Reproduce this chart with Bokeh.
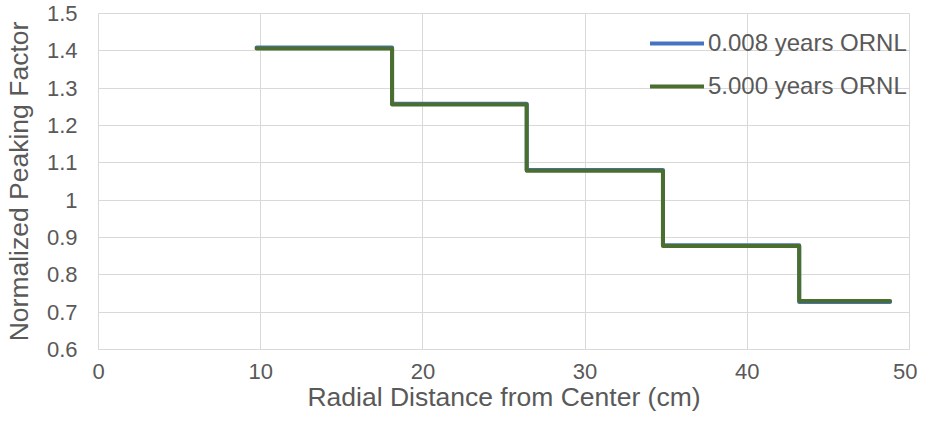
from bokeh.plotting import figure
from bokeh.models import Range1d, FixedTicker, Legend, LegendItem
from bokeh.embed import file_html
from bokeh.resources import INLINE

# ---- data ----
radius_edges = [9.75, 18.1, 26.4, 34.8, 43.2, 48.8]      # cm, ring boundaries
pf_0008_years = [1.409, 1.258, 1.081, 0.879, 0.727]       # 0.008 years ORNL
pf_5000_years = [1.406, 1.256, 1.079, 0.877, 0.730]       # 5.000 years ORNL
series_names = ["0.008 years ORNL", "5.000 years ORNL"]
x_ticks = [0, 10, 20, 30, 40, 50]
x_tick_labels = ["0", "10", "20", "30", "40", "50"]
y_ticks = [0.6, 0.7, 0.8, 0.9, 1.0, 1.1, 1.2, 1.3, 1.4, 1.5]
y_tick_labels = ["0.6", "0.7", "0.8", "0.9", "1", "1.1", "1.2", "1.3", "1.4", "1.5"]

FONT = "Liberation Sans"
TXT = "#595959"
GRID = "#D9D9D9"
BLUE = "#4472C4"
GREEN = "#4A6E2E"

p = figure(width=917, height=417, output_backend="svg", toolbar_location=None,
           x_range=Range1d(0, 50), y_range=Range1d(0.6, 1.5),
           min_border_left=93, min_border_right=8, min_border_top=13, min_border_bottom=68)
p.background_fill_color = "white"
p.border_fill_color = "white"
p.outline_line_color = GRID
p.outline_line_width = 1

# step series
def step_y(vals):
    return list(vals) + [vals[-1]]

r_blue = p.step(radius_edges, step_y(pf_0008_years), mode="after",
                line_color=BLUE, line_width=4, line_join="round", line_cap="round")
r_green = p.step(radius_edges, step_y(pf_5000_years), mode="after",
                 line_color=GREEN, line_width=4, line_join="round", line_cap="round")

# axes
p.xaxis.ticker = FixedTicker(ticks=x_ticks)
p.xaxis.major_label_overrides = {t: l for t, l in zip(x_ticks, x_tick_labels)}
p.yaxis.ticker = FixedTicker(ticks=y_ticks)
p.yaxis.major_label_overrides = {t: l for t, l in zip(y_ticks, y_tick_labels)}

for ax in (p.xaxis, p.yaxis):
    ax.axis_line_color = None
    ax.major_tick_line_color = None
    ax.minor_tick_line_color = None
    ax.major_tick_out = 0
    ax.major_tick_in = 0
    ax.major_label_text_font = FONT
    ax.major_label_text_font_size = "22px"
    ax.major_label_text_color = TXT
    ax.axis_label_text_font = FONT
    ax.axis_label_text_font_size = "26.5px"
    ax.axis_label_text_font_style = "normal"
    ax.axis_label_text_color = TXT

p.xaxis.axis_label = "Radial Distance from Center (cm)"
p.yaxis.axis_label = "Normalized Peaking Factor"
p.xaxis.major_label_standoff = 14
p.xaxis.axis_label_standoff = 0
p.yaxis.major_label_standoff = 21
p.yaxis.axis_label_standoff = 10

p.xgrid.ticker = FixedTicker(ticks=x_ticks)
p.ygrid.ticker = FixedTicker(ticks=y_ticks)
p.grid.grid_line_color = GRID
p.grid.grid_line_width = 1

legend = Legend(items=[LegendItem(label=series_names[0], renderers=[r_blue]),
                       LegendItem(label=series_names[1], renderers=[r_green])],
                location=(552, 248))
legend.margin = 0
legend.padding = 0
legend.spacing = 13
legend.glyph_width = 54
legend.glyph_height = 30
legend.label_height = 30
legend.label_standoff = 4
legend.label_text_font = FONT
legend.label_text_font_size = "24px"
legend.label_text_color = TXT
legend.background_fill_alpha = 0
legend.border_line_color = None
p.add_layout(legend, "center")

open("out.html", "w").write(file_html(p, INLINE))
